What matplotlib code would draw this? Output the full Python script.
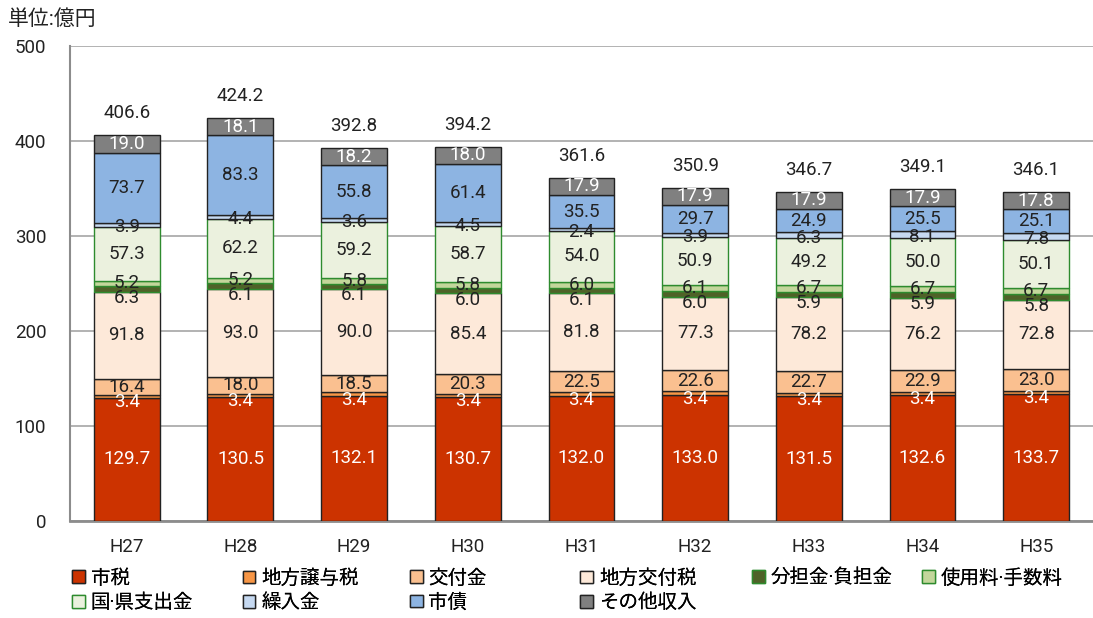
import matplotlib
matplotlib.use("Agg")
import matplotlib.pyplot as plt
import matplotlib.patches as mpatches
import numpy as np

plt.rcParams['font.family'] = ['Roboto', 'Noto Sans CJK JP', 'DejaVu Sans']

# data (億円)
years = ['H27', 'H28', 'H29', 'H30', 'H31', 'H32', 'H33', 'H34', 'H35']
names = ['市税', '地方譲与税', '交付金', '地方交付税', '分担金·負担金', '使用料·手数料',
         '国·県支出金', '繰入金', '市債', 'その他収入']
shizei    = [129.7, 130.5, 132.1, 130.7, 132.0, 133.0, 131.5, 132.6, 133.7]
joyozei   = [3.4, 3.4, 3.4, 3.4, 3.4, 3.4, 3.4, 3.4, 3.4]
kofukin   = [16.4, 18.0, 18.5, 20.3, 22.5, 22.6, 22.7, 22.9, 23.0]
kofuzei   = [91.8, 93.0, 90.0, 85.4, 81.8, 77.3, 78.2, 76.2, 72.8]
buntan    = [6.3, 6.1, 6.1, 6.0, 6.1, 6.0, 5.9, 5.9, 5.8]
shiyoryo  = [5.2, 5.2, 5.8, 5.8, 6.0, 6.1, 6.7, 6.7, 6.7]
shishutsu = [57.3, 62.2, 59.2, 58.7, 54.0, 50.9, 49.2, 50.0, 50.1]
kurire    = [3.9, 4.4, 3.6, 4.5, 2.4, 3.9, 6.3, 8.1, 7.8]
shisai    = [73.7, 83.3, 55.8, 61.4, 35.5, 29.7, 24.9, 25.5, 25.1]
sonota    = [19.0, 18.1, 18.2, 18.0, 17.9, 17.9, 17.9, 17.9, 17.8]
totals    = [406.6, 424.2, 392.8, 394.2, 361.6, 350.9, 346.7, 349.1, 346.1]

series = [shizei, joyozei, kofukin, kofuzei, buntan, shiyoryo, shishutsu, kurire, shisai, sonota]
colors = ['#CC3300', '#F79646', '#FAC090', '#FDE9D9', '#4F6228', '#C3D69B',
          '#EBF1DE', '#C6D9F1', '#8DB4E2', '#808080']
edges = ['#222222', '#222222', '#222222', '#222222', '#2E8B2E', '#2E8B2E',
         '#2E8B2E', '#222222', '#222222', '#222222']
txt_colors = ['white', 'white', '#222222', '#222222', '#222222', '#222222',
              '#222222', '#222222', '#222222', 'white']
# vertical label offsets in points
offsets = [0, -4, 0, 0, -6.5, 0, 0, -1.5, 0, 0]

fig = plt.figure(figsize=(10.93, 6.18), dpi=100)
ax = fig.add_axes([0.064, 0.157, 0.936, 0.768])

x = np.arange(len(years))
bottom = np.zeros(len(years))
for vals, c, ec, tc, off in zip(series, colors, edges, txt_colors, offsets):
    vals = np.array(vals)
    ax.bar(x, vals, 0.58, bottom=bottom, color=c, edgecolor=ec, linewidth=1.0, zorder=3)
    for xi, b, v in zip(x, bottom, vals):
        ax.annotate(f'{v:.1f}', (xi, b + v / 2), xytext=(0, off), textcoords='offset points',
                    ha='center', va='center', fontsize=13.5, color=tc, zorder=5)
    bottom += vals

for xi, t, b in zip(x, totals, bottom):
    ax.annotate(f'{t:.1f}', (xi, b), xytext=(0, 16), textcoords='offset points',
                ha='center', va='center', fontsize=13.5, color='#222222')

ax.set_xlim(-0.5, len(years) - 0.5)
ax.set_ylim(0, 500)
ax.set_yticks([0, 100, 200, 300, 400, 500])
ax.set_xticks(x)
ax.set_xticklabels(years)
ax.tick_params(axis='both', length=0, labelsize=13.5, colors='#222222')
ax.tick_params(axis='y', pad=17)
ax.tick_params(axis='x', pad=12)
ax.grid(axis='y', color='#A6A6A6', linewidth=1.2, zorder=0)
ax.set_axisbelow(True)
for s in ['top', 'right']:
    ax.spines[s].set_visible(False)
ax.spines['left'].set_color('#8C8C8C')
ax.spines['left'].set_linewidth(1.5)
ax.spines['bottom'].set_color('#8C8C8C')
ax.spines['bottom'].set_linewidth(2)

fig.text(0.007, 0.97, '単位:億円', fontsize=15, ha='left', va='center', color='#222222')

# legend, laid out in fixed columns
handles = [mpatches.Patch(facecolor=c, edgecolor=ec, linewidth=1.0) for c, ec in zip(colors, edges)]
cols = [[0, 6], [1, 7], [2, 8], [3, 9], [4], [5]]
col_x = [0.066, 0.222, 0.375, 0.531, 0.688, 0.844]
for idx, cx in zip(cols, col_x):
    leg = fig.legend([handles[i] for i in idx], [names[i] for i in idx],
                     loc='upper left', bbox_to_anchor=(cx, 0.079), frameon=False,
                     fontsize=14, handlelength=0.65, handleheight=0.65, handletextpad=0.3,
                     labelspacing=0.3, borderpad=0, borderaxespad=0)
    fig.add_artist(leg)

fig.savefig('out.png', dpi=100)
